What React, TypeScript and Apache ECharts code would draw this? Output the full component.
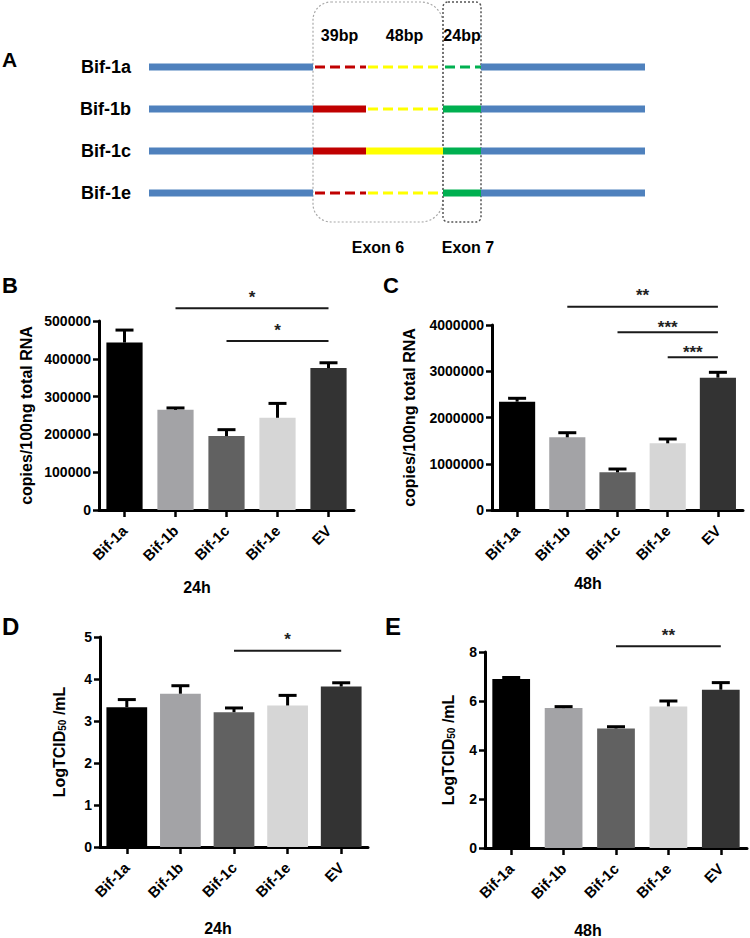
import React, { useEffect, useRef } from 'react';
import * as echarts from 'echarts';

const FONT = 'Arial, "Liberation Sans", Helvetica, sans-serif';

// ---------- Panel A: isoform schematic ----------
const isoforms = ['Bif-1a', 'Bif-1b', 'Bif-1c', 'Bif-1e'];
const segmentStart = [0, 164, 217, 294, 332];
const segmentEnd = [164, 217, 294, 332, 496];
const segmentColors = ['#4f81bd', '#c00000', '#ffff00', '#00b050', '#4f81bd'];
const segmentLabels = ['', '39bp', '48bp', '24bp', ''];
const included1a = [1, 0, 0, 0, 1];
const included1b = [1, 1, 0, 1, 1];
const included1c = [1, 1, 1, 1, 1];
const included1e = [1, 0, 0, 1, 1];
const exonNames = ['Exon 6', 'Exon 7'];
const exonStart = [164, 294];
const exonEnd = [294, 332];

// ---------- Panels B-E ----------
const categories = ['Bif-1a', 'Bif-1b', 'Bif-1c', 'Bif-1e', 'EV'];
const barColors = ['#000000', '#a3a3a6', '#616161', '#d6d6d6', '#333333'];

const copies24h = [443000, 265000, 195500, 244000, 375500];
const copies24hErr = [33000, 5000, 17000, 38000, 14000];
const copies48h = [2342000, 1572000, 815000, 1442000, 2861000];
const copies48hErr = [73000, 99000, 71000, 93000, 116000];
const tcid24h = [3.33, 3.65, 3.21, 3.37, 3.82];
const tcid24hErr = [0.18, 0.19, 0.1, 0.24, 0.09];
const tcid48h = [6.9, 5.71, 4.88, 5.78, 6.46];
const tcid48hErr = [0.06, 0.06, 0.07, 0.22, 0.29];

// significance brackets: [fromIndex, toIndex, yValue, label]
const sig24hCopies: [number, number, number, string][] = [
  [1, 4, 534000, '*'],
  [2, 4, 447000, '*'],
];
const sig48hCopies: [number, number, number, string][] = [
  [1, 4, 4396000, '**'],
  [2, 4, 3842000, '***'],
  [3, 4, 3302000, '***'],
];
const sig24hTcid: [number, number, number, string][] = [[2, 4, 4.67, '*']];
const sig48hTcid: [number, number, number, string][] = [[2, 4, 8.23, '**']];

const copiesTicks = { max: 500000, interval: 100000 };
const copies48Ticks = { max: 4000000, interval: 1000000 };
const tcid24Ticks = { max: 5, interval: 1 };
const tcid48Ticks = { max: 8, interval: 2 };

const txt = (size: number) => ({ fontSize: size, fontWeight: 'bold' as const, fontFamily: FONT, fill: '#000' });

function panelAxes(g: number, ticks: { max: number; interval: number }, name: string, nameGap: number) {
  const xAxis = {
    type: 'category',
    gridIndex: g,
    data: categories,
    axisLine: { show: true, lineStyle: { color: '#000', width: 3 } },
    axisTick: { show: true, alignWithLabel: true, length: 7, lineStyle: { color: '#000', width: 2.5 } },
    axisLabel: {
      rotate: 45,
      interval: 0,
      fontSize: 15,
      fontWeight: 'bold',
      color: '#000',
      fontFamily: FONT,
      margin: 18,
    },
  };
  const yAxis = {
    type: 'value',
    gridIndex: g,
    min: 0,
    max: ticks.max,
    interval: ticks.interval,
    axisLine: { show: true, lineStyle: { color: '#000', width: 3 } },
    axisTick: { show: true, length: 6, lineStyle: { color: '#000', width: 2.5 } },
    axisLabel: { fontSize: 14, fontWeight: 'bold', color: '#000', fontFamily: FONT, margin: 8, formatter: (v: number) => String(v) },
    splitLine: { show: false },
    name,
    nameLocation: 'middle',
    nameRotate: 90,
    nameGap,
    nameTextStyle: {
      fontSize: 16,
      fontWeight: 'bold',
      color: '#000',
      fontFamily: FONT,
      rich: { sub: { fontSize: 10, fontWeight: 'bold', color: '#000', fontFamily: FONT, verticalAlign: 'bottom', padding: [4, 0, 0, 0] } },
    },
  };
  return { xAxis, yAxis };
}

function panelSeries(g: number, values: number[], errs: number[], sig: [number, number, number, string][], barWidth: string) {
  return [
    {
      type: 'bar',
      xAxisIndex: g,
      yAxisIndex: g,
      barWidth,
      data: values.map((v, i) => ({ value: v, itemStyle: { color: barColors[i] } })),
      z: 2,
    },
    {
      type: 'custom',
      xAxisIndex: g,
      yAxisIndex: g,
      clip: false,
      z: 3,
      encode: { x: 0, y: 1 },
      data: values.map((v, i) => [i, v, errs[i]]),
      renderItem: (params: any, api: any) => {
        const base = api.coord([api.value(0), api.value(1)]);
        const top = api.coord([api.value(0), api.value(1) + api.value(2)]);
        return {
          type: 'group',
          children: [
            { type: 'line', shape: { x1: base[0], y1: base[1], x2: top[0], y2: top[1] }, style: { stroke: '#000', lineWidth: 3 } },
            { type: 'line', shape: { x1: top[0] - 9, y1: top[1], x2: top[0] + 9, y2: top[1] }, style: { stroke: '#000', lineWidth: 3 } },
          ],
        };
      },
    },
    {
      type: 'custom',
      xAxisIndex: g,
      yAxisIndex: g,
      clip: false,
      z: 4,
      encode: { x: [0, 1], y: 2 },
      data: sig.map((s) => [s[0], s[1], s[2]]),
      renderItem: (params: any, api: any) => {
        const a = api.coord([api.value(0), api.value(2)]);
        const b = api.coord([api.value(1), api.value(2)]);
        const label = sig[params.dataIndex][3];
        const gap = label.length >= 3 ? 9 : 15;
        return {
          type: 'group',
          children: [
            { type: 'line', shape: { x1: a[0], y1: a[1], x2: b[0], y2: b[1] }, style: { stroke: '#1a1a1a', lineWidth: 2 } },
            {
              type: 'text',
              x: (a[0] + b[0]) / 2,
              y: a[1] - gap + 4,
              style: { text: label, ...txt(17), fill: '#222', align: 'center', verticalAlign: 'middle' },
            },
          ],
        };
      },
    },
  ];
}

export default function App() {
  const ref = useRef<HTMLDivElement>(null);
  useEffect(() => {
    if (!ref.current) return;
    const chart = echarts.init(ref.current, undefined, { renderer: 'svg', width: 750, height: 938 });
    const included = [included1a, included1b, included1c, included1e];
    const segData: number[][] = [];
    included.forEach((row, r) => row.forEach((inc, s) => segData.push([segmentStart[s], segmentEnd[s], r, s, inc])));
    const bpData = segmentLabels
      .map((l, s) => [(segmentStart[s] + segmentEnd[s]) / 2, 0, s])
      .filter((d) => segmentLabels[d[2]] !== '');

    const pB = panelAxes(1, copiesTicks, 'copies/100ng total RNA', 65);
    const pC = panelAxes(2, copies48Ticks, 'copies/100ng total RNA', 75);
    const pD = panelAxes(3, tcid24Ticks, 'LogTCID{sub|50} /mL', 33);
    const pE = panelAxes(4, tcid48Ticks, 'LogTCID{sub|50} /mL', 29);

    chart.setOption({
      animation: false,
      backgroundColor: '#ffffff',
      textStyle: { fontFamily: FONT },
      grid: [
        { left: 149, top: 46, width: 496, height: 168 },
        { left: 99, top: 321, width: 255, height: 189 },
        { left: 492, top: 325, width: 251, height: 185 },
        { left: 100, top: 637, width: 268, height: 210 },
        { left: 485, top: 652, width: 262, height: 196 },
      ],
      xAxis: [
        { type: 'value', gridIndex: 0, min: 0, max: 496, show: false },
        pB.xAxis,
        pC.xAxis,
        pD.xAxis,
        pE.xAxis,
      ],
      yAxis: [
        {
          type: 'category',
          gridIndex: 0,
          data: isoforms,
          inverse: true,
          axisLine: { show: false },
          axisTick: { show: false },
          splitLine: { show: false },
          axisLabel: { fontSize: 18, fontWeight: 'bold', color: '#000', fontFamily: FONT, margin: 18 },
        },
        pB.yAxis,
        pC.yAxis,
        pD.yAxis,
        pE.yAxis,
      ],
      series: [
        {
          type: 'custom',
          xAxisIndex: 0,
          yAxisIndex: 0,
          clip: false,
          z: 1,
          encode: { x: [0, 1], y: 2 },
          data: exonStart.map((s, i) => [s, exonEnd[i], 0]),
          renderItem: (params: any, api: any) => {
            const cs = params.coordSys;
            const i = params.dataIndex;
            const a = api.coord([api.value(0), 0]);
            const b = api.coord([api.value(1), 0]);
            const top = cs.y - 44;
            const bottom = cs.y + cs.height + 8;
            return {
              type: 'group',
              children: [
                {
                  type: 'rect',
                  shape: { x: a[0], y: top, width: b[0] - a[0], height: bottom - top, r: i === 0 ? [18, 22, 22, 18] : 5 },
                  style: { fill: 'none', stroke: i === 0 ? '#a8a8a8' : '#555', lineWidth: i === 0 ? 1.2 : 1.5, lineDash: [2, 2] },
                },
                {
                  type: 'text',
                  x: (a[0] + b[0]) / 2 + (i === 1 ? 6 : 0),
                  y: bottom + 25,
                  style: { text: exonNames[i], ...txt(16), align: 'center', verticalAlign: 'middle' },
                },
              ],
            };
          },
        },
        {
          type: 'custom',
          xAxisIndex: 0,
          yAxisIndex: 0,
          clip: false,
          z: 2,
          encode: { x: [0, 1], y: 2 },
          data: segData,
          renderItem: (params: any, api: any) => {
            const a = api.coord([api.value(0), api.value(2)]);
            const b = api.coord([api.value(1), api.value(2)]);
            const s = api.value(3);
            const color = segmentColors[s];
            if (api.value(4)) {
              return {
                type: 'rect',
                shape: { x: a[0], y: a[1] - 3.5, width: b[0] - a[0], height: 7 },
                style: { fill: color },
              };
            }
            return {
              type: 'line',
              shape: { x1: a[0] + 2, y1: a[1], x2: b[0], y2: b[1] },
              style: { stroke: color, lineWidth: 3.2, lineDash: [10, 5] },
            };
          },
        },
        {
          type: 'custom',
          xAxisIndex: 0,
          yAxisIndex: 0,
          clip: false,
          z: 2,
          encode: { x: 0, y: 1 },
          data: bpData,
          renderItem: (params: any, api: any) => {
            const cs = params.coordSys;
            const p = api.coord([api.value(0), 0]);
            return {
              type: 'text',
              x: p[0],
              y: cs.y - 11,
              style: { text: segmentLabels[api.value(2)], ...txt(16), align: 'center', verticalAlign: 'middle' },
            };
          },
        },
        ...panelSeries(1, copies24h, copies24hErr, sig24hCopies, '71%'),
        ...panelSeries(2, copies48h, copies48hErr, sig48hCopies, '72%'),
        ...panelSeries(3, tcid24h, tcid24hErr, sig24hTcid, '76%'),
        ...panelSeries(4, tcid48h, tcid48hErr, sig48hTcid, '72%'),
      ],
      graphic: [
        { type: 'text', left: 2, top: 49, style: { text: 'A', ...txt(21) } },
        { type: 'text', left: 2, top: 274, style: { text: 'B', ...txt(22) } },
        { type: 'text', left: 383, top: 274, style: { text: 'C', ...txt(22) } },
        { type: 'text', left: 2, top: 614, style: { text: 'D', ...txt(24) } },
        { type: 'text', left: 385, top: 614, style: { text: 'E', ...txt(24) } },
        { type: 'text', x: 197, y: 587, style: { text: '24h', ...txt(16), align: 'center', verticalAlign: 'middle' } },
        { type: 'text', x: 588, y: 583, style: { text: '48h', ...txt(16), align: 'center', verticalAlign: 'middle' } },
        { type: 'text', x: 218, y: 928, style: { text: '24h', ...txt(16), align: 'center', verticalAlign: 'middle' } },
        { type: 'text', x: 588, y: 930, style: { text: '48h', ...txt(16), align: 'center', verticalAlign: 'middle' } },
      ],
    });
    return () => chart.dispose();
  }, []);
  return <div ref={ref} style={{ position: 'fixed', left: 0, top: 0, width: 750, height: 938, background: '#fff' }} />;
}
